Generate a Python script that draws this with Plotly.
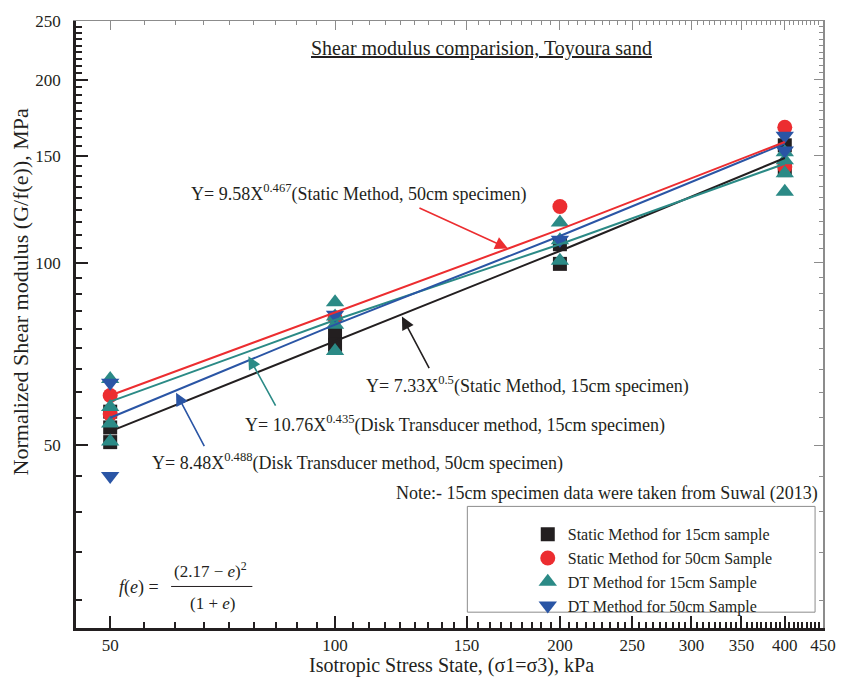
import numpy as np
import plotly.graph_objects as go

# ---------------- data ----------------
static15_x = [50, 50, 50, 100, 100, 200, 200, 400, 400]
static15_y = [56.8, 53.5, 50.6, 76.5, 73.2, 107.2, 99.5, 156, 142]

static50_x = [50, 50, 100, 200, 400, 400]
static50_y = [60.4, 56.3, 81, 123.7, 167, 143.8]

dt15_x = [50, 50, 50, 50, 100, 100, 100, 100, 200, 200, 200, 400, 400, 400, 400]
dt15_y = [64.3, 57.8, 54.3, 50.7, 86, 81.5, 79, 71.5, 116.4, 108.8, 100.7, 152, 147.4, 140.3, 130.8]

dt50_x = [50, 50, 100, 200, 400, 400]
dt50_y = [63.4, 44.5, 82, 109, 161.8, 153]

fit_x = [50, 100, 200, 400]
fit_static15 = [52.7, 74.1, 104.5, 148.7]
fit_static50 = [60.4, 82.7, 113.4, 158]
fit_dt15 = [59.0, 80.4, 107.2, 145.5]
fit_dt50 = [55.5, 79, 110.6, 157]

x_ticks = [50, 100, 150, 200, 250, 300, 350, 400, 450]
y_ticks = [50, 100, 150, 200, 250]

names = ["Static Method for 15cm sample", "Static Method for 50cm Sample",
         "DT Method for 15cm Sample", "DT Method for 50cm Sample"]

# ---------------- styling ----------------
FONT = "Liberation Serif, Times New Roman, serif"
INK = "#231f20"
RED = "#ec2d30"
TEAL = "#2b8a86"
BLUE = "#2a55a5"
GRAY = "#8c8c8c"

W, H = 848, 677
L, R, T, B = 76, 830, 14, 628


def px(x):
    return (x - L) / (R - L)


def py(y):
    return (B - y) / (B - T)


x_range = [np.log10(45), np.log10(450)]
y_range = [np.log10(25), np.log10(250)]
step = 50 / 9


def is_major(v):
    return abs(v / 50 - round(v / 50)) < 1e-6


x_minor = [50 + k * step for k in range(-2, 74)]
x_minor = [v for v in x_minor if 45 <= v <= 450.001 and not is_major(v)]
y_minor = [50 + k * step for k in range(-5, 38)]
y_minor = [v for v in y_minor if 25 < v <= 250.001 and not is_major(v)]

x_all = sorted(x_ticks + x_minor)
y_all = sorted(y_ticks + y_minor)
x_all_text = [str(int(round(v))) if is_major(v) else "" for v in x_all]
y_all_text = [str(int(round(v))) if is_major(v) else "" for v in y_all]

fig = go.Figure()

for xs, ys, sym, col, sz, nm in [
    (static15_x, static15_y, "square", INK, 14, names[0]),
    (static50_x, static50_y, "circle", RED, 15, names[1]),
    (dt15_x, dt15_y, "triangle-up", TEAL, 16, names[2]),
    (dt50_x, dt50_y, "triangle-down", BLUE, 16, names[3]),
]:
    fig.add_trace(go.Scatter(x=xs, y=ys, mode="markers", name=nm,
                             marker=dict(symbol=sym, color=col, size=sz, line=dict(width=0))))

for ys, col in [(fit_static15, INK), (fit_dt15, TEAL), (fit_dt50, BLUE), (fit_static50, RED)]:
    fig.add_trace(go.Scatter(x=fit_x, y=ys, mode="lines", showlegend=False,
                             line=dict(color=col, width=2)))

# dummy traces so that the extra tick axes are drawn
for k in (2, 3, 4):
    fig.add_trace(go.Scatter(x=[None], y=[None], xaxis=f"x{k}", yaxis=f"y{k}",
                             showlegend=False, hoverinfo="skip"))

tick_font = dict(family=FONT, size=17, color=INK)
common = dict(showgrid=False, zeroline=False)

fig.update_layout(
    width=W, height=H,
    margin=dict(l=L, r=W - R, t=T, b=H - B),
    paper_bgcolor="white", plot_bgcolor="white",
    font=dict(family=FONT, color=INK),
    xaxis=dict(type="log", range=x_range, tickmode="array", tickvals=x_all, ticktext=x_all_text,
               ticks="inside", ticklen=6, tickwidth=1.5, tickcolor=INK, showline=True,
               linecolor=INK, linewidth=2.5, tickfont=tick_font, ticklabelstandoff=0, **common),
    yaxis=dict(type="log", range=y_range, tickmode="array", tickvals=y_all, ticktext=y_all_text,
               ticks="inside", ticklen=6, tickwidth=1.5, tickcolor=INK, showline=True,
               linecolor=INK, linewidth=2.5, tickfont=tick_font, ticklabelstandoff=9, **common),
    xaxis3=dict(type="log", range=x_range, overlaying="x", side="bottom", anchor="y3",
                tickmode="array", tickvals=x_ticks, ticks="inside", ticklen=12, tickwidth=2,
                tickcolor=INK, showticklabels=False, showline=False, **common),
    yaxis3=dict(type="log", range=y_range, overlaying="y", side="left", anchor="x3",
                tickmode="array", tickvals=y_ticks, ticks="inside", ticklen=12, tickwidth=2,
                tickcolor=INK, showticklabels=False, showline=False, **common),
    xaxis2=dict(type="log", range=x_range, overlaying="x", side="top", anchor="y2",
                tickmode="array", tickvals=x_all, ticks="inside", ticklen=4, tickwidth=1,
                tickcolor=GRAY, showticklabels=False, showline=True, linecolor=GRAY,
                linewidth=1, **common),
    yaxis2=dict(type="log", range=y_range, overlaying="y", side="right", anchor="x2",
                tickmode="array", tickvals=y_all, ticks="inside", ticklen=4, tickwidth=1,
                tickcolor=GRAY, showticklabels=False, showline=True, linecolor=GRAY,
                linewidth=1.5, **common),
    xaxis4=dict(type="log", range=x_range, overlaying="x", side="top", anchor="y4",
                tickmode="array", tickvals=x_ticks, ticks="inside", ticklen=9, tickwidth=1,
                tickcolor=GRAY, showticklabels=False, showline=False, **common),
    yaxis4=dict(type="log", range=y_range, overlaying="y", side="right", anchor="x4",
                tickmode="array", tickvals=y_ticks, ticks="inside", ticklen=9, tickwidth=1,
                tickcolor=GRAY, showticklabels=False, showline=False, **common),
    legend=dict(x=px(532), y=py(516), xanchor="left", yanchor="top",
                bgcolor="rgba(0,0,0,0)", borderwidth=0, tracegroupgap=0,
                font=dict(family=FONT, size=16, color=INK), itemwidth=30),
    showlegend=True,
)

# legend box (drawn above, transparent fill)
fig.add_shape(type="rect", xref="paper", yref="paper", x0=px(471), x1=px(822),
              y0=py(612), y1=py(505), line=dict(color=GRAY, width=1),
              fillcolor="rgba(0,0,0,0)", layer="above")

ann = []


def text(x, y, s, anchor="left", size=18, angle=0):
    ann.append(dict(x=px(x), y=py(y), xref="paper", yref="paper", text=s, showarrow=False,
                    xanchor=anchor, yanchor="middle", textangle=angle,
                    font=dict(family=FONT, size=size, color=INK)))


text(485, 42, "<u>Shear modulus comparision, Toyoura sand</u>", anchor="center", size=20)
text(190, 188, "Y= 9.58X<sup>0.467</sup>(Static Method, 50cm specimen)")
text(367, 382, "Y= 7.33X<sup>0.5</sup>(Static Method, 15cm specimen)")
text(245, 422, "Y= 10.76X<sup>0.435</sup>(Disk Transducer method, 15cm specimen)")
text(151, 460, "Y= 8.48X<sup>0.488</sup>(Disk Transducer method, 50cm specimen)")
text(397, 492, "Note:- 15cm specimen data were taken from Suwal (2013)")
text(455, 666, "Isotropic Stress State, (σ1=σ3), kPa", anchor="center", size=20)
text(20, 288, "Normalized Shear modulus (G/f(e)), MPa", anchor="center", size=22, angle=-90)

# formula
text(117, 587, "<i>f</i>(<i>e</i>) =", size=18)
text(212, 569, "(2.17 − <i>e</i>)<sup>2</sup>", anchor="center", size=17)
text(214, 603, "(1 + <i>e</i>)", anchor="center", size=17)
fig.add_shape(type="line", xref="paper", yref="paper", x0=px(172), x1=px(254),
              y0=py(586), y1=py(586), line=dict(color=INK, width=1), layer="above")

# arrows (head, tail in pixels)
for head, tail, col in [((512, 244), (422, 203), RED),
                        ((405, 313), (433, 366), INK),
                        ((250, 353), (278, 404), TEAL),
                        ((177, 390), (206, 445), BLUE)]:
    ann.append(dict(x=px(head[0]), y=py(head[1]), xref="paper", yref="paper", text="",
                    showarrow=True, arrowhead=2, arrowsize=1.6, arrowwidth=1.6, arrowcolor=col,
                    ax=tail[0] - head[0], ay=tail[1] - head[1], standoff=0))

fig.update_layout(annotations=ann)
fig.write_html("out.html")
